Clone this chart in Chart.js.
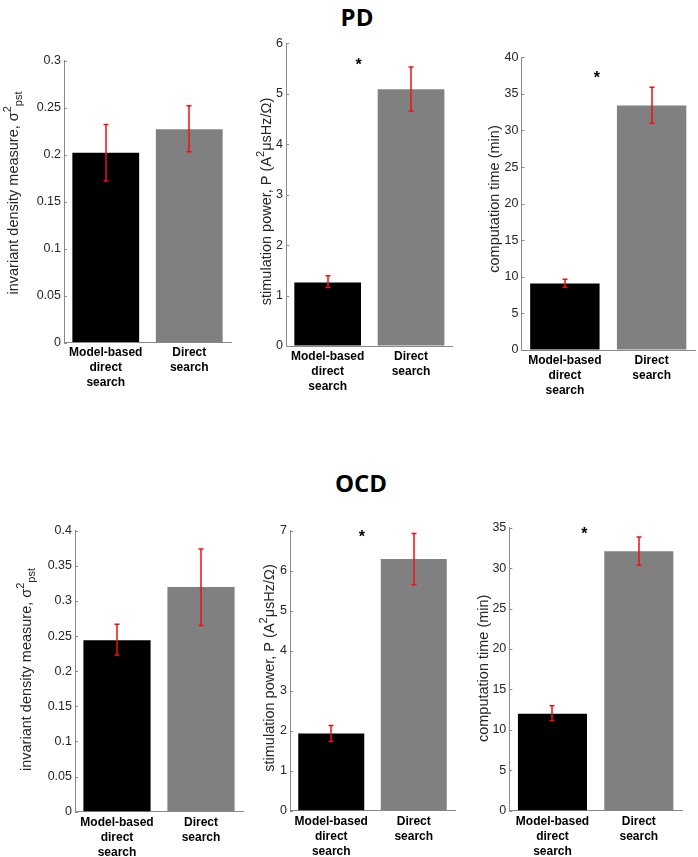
<!DOCTYPE html>
<html><head><meta charset="utf-8">
<script src="https://cdn.jsdelivr.net/npm/chart.js@4.4.0/dist/chart.umd.min.js"></script>
<style>
body{margin:0;background:#fff;width:698px;height:857px;position:relative;overflow:hidden;font-family:"Liberation Sans",Arial,sans-serif}
canvas{position:absolute}
.title{position:absolute;font-family:"Open Sans",sans-serif;font-weight:bold;font-size:24px;line-height:1;transform:translateX(-50%);color:#000}
</style></head><body>
<div class="title" style="left:357px;top:5px">PD</div>
<div class="title" style="left:361px;top:471px">OCD</div>
<canvas id="c0"></canvas><canvas id="c1"></canvas><canvas id="c2"></canvas>
<canvas id="c3"></canvas><canvas id="c4"></canvas><canvas id="c5"></canvas>
<script>
// ---------- data ----------
const categories = [["Model-based","direct","search"],["Direct","search"]];

const pdInvMean  = [0.202, 0.227];
const pdInvLow   = [0.172, 0.203];
const pdInvHigh  = [0.232, 0.252];
const pdPowMean  = [1.26, 5.09];
const pdPowLow   = [1.16, 4.66];
const pdPowHigh  = [1.39, 5.53];
const pdTimeMean = [9.1, 33.4];
const pdTimeLow  = [8.57, 31.0];
const pdTimeHigh = [9.66, 35.9];

const ocdInvMean  = [0.244, 0.320];
const ocdInvLow   = [0.223, 0.265];
const ocdInvHigh  = [0.267, 0.374];
const ocdPowMean  = [1.93, 6.29];
const ocdPowLow   = [1.73, 5.65];
const ocdPowHigh  = [2.13, 6.93];
const ocdTimeMean = [12.0, 32.1];
const ocdTimeLow  = [11.13, 30.35];
const ocdTimeHigh = [12.99, 33.85];

const pdInvTicks   = [0, 0.05, 0.1, 0.15, 0.2, 0.25, 0.3];
const pdPowTicks   = [0, 1, 2, 3, 4, 5, 6];
const pdTimeTicks  = [0, 5, 10, 15, 20, 25, 30, 35, 40];
const ocdInvTicks  = [0, 0.05, 0.1, 0.15, 0.2, 0.25, 0.3, 0.35, 0.4];
const ocdPowTicks  = [0, 1, 2, 3, 4, 5, 6, 7];
const ocdTimeTicks = [0, 5, 10, 15, 20, 25, 30, 35];

// significance marker heights (null = none)
const pdStars  = [null, 5.64, 37.7];
const ocdStars = [null, 6.94, 34.7];

const invTitle  = [["invariant density measure, σ"], ["2","sup"], ["pst","sub"]];
const powTitle  = [["stimulation power, P (A"], ["2","sup"], ["μsHz/Ω)"]];
const timeTitle = [["computation time (min)"]];

// ---------- layout (positions / sizes) ----------
const panels = [
  {mean:pdInvMean, low:pdInvLow, high:pdInvHigh, ticks:pdInvTicks, star:pdStars[0], title:invTitle,
   L:0, T:30, W:240, H:370, axisX:64, axisEnd:231, topY:60.7, zeroY:342.5, tx:17.5, ty:193},
  {mean:pdPowMean, low:pdPowLow, high:pdPowHigh, ticks:pdPowTicks, star:pdStars[1], title:powTitle,
   L:240, T:30, W:225, H:370, axisX:286, axisEnd:452.7, topY:43.3, zeroY:346, tx:270.5, ty:201.5},
  {mean:pdTimeMean, low:pdTimeLow, high:pdTimeHigh, ticks:pdTimeTicks, star:pdStars[2], title:timeTitle,
   L:465, T:30, W:233, H:370, axisX:521.5, axisEnd:695, topY:57.3, zeroY:350, tx:499, ty:199},
  {mean:ocdInvMean, low:ocdInvLow, high:ocdInvHigh, ticks:ocdInvTicks, star:ocdStars[0], title:invTitle,
   L:0, T:500, W:245, H:357, axisX:75, axisEnd:243, topY:530.7, zeroY:811.7, tx:30.5, ty:669.5},
  {mean:ocdPowMean, low:ocdPowLow, high:ocdPowHigh, ticks:ocdPowTicks, star:ocdStars[1], title:powTitle,
   L:245, T:500, W:215, H:357, axisX:290, axisEnd:455, topY:530.7, zeroY:810.7, tx:274, ty:668},
  {mean:ocdTimeMean, low:ocdTimeLow, high:ocdTimeHigh, ticks:ocdTimeTicks, star:ocdStars[2], title:timeTitle,
   L:460, T:500, W:238, H:357, axisX:509.3, axisEnd:682, topY:527.7, zeroY:810.7, tx:488.3, ty:668.3}
];
const STAR_X = 0.37;
const FONT = '"Liberation Sans", Arial, sans-serif';
const AXIS_COLOR = '#8a8a8a';

const extrasPlugin = {
  id: 'extras',
  afterDatasetsDraw(chart, args, opts) {
    const p = opts.panel;
    const {ctx, chartArea} = chart;
    const x = chart.scales.x, y = chart.scales.y;
    const meta = chart.getDatasetMeta(0);
    ctx.save();
    // inward tick marks
    ctx.strokeStyle = AXIS_COLOR; ctx.lineWidth = 1;
    p.ticks.forEach(v => {
      const py = Math.round(y.getPixelForValue(v)) + 0.5;
      ctx.beginPath(); ctx.moveTo(chartArea.left, py); ctx.lineTo(chartArea.left + 3, py); ctx.stroke();
    });
    // error bars
    ctx.strokeStyle = '#f01010'; ctx.lineWidth = 1.5;
    meta.data.forEach((bar, i) => {
      const bx = Math.round(bar.x);
      const y1 = y.getPixelForValue(p.low[i]), y2 = y.getPixelForValue(p.high[i]);
      ctx.beginPath();
      ctx.moveTo(bx, y1); ctx.lineTo(bx, y2);
      ctx.moveTo(bx - 2.5, y1); ctx.lineTo(bx + 2.5, y1);
      ctx.moveTo(bx - 2.5, y2); ctx.lineTo(bx + 2.5, y2);
      ctx.stroke();
    });
    // significance star
    if (p.star !== null) {
      ctx.fillStyle = '#000';
      ctx.font = 'bold 16px ' + FONT;
      ctx.textAlign = 'center'; ctx.textBaseline = 'alphabetic';
      ctx.fillText('*', x.getPixelForValue(STAR_X), y.getPixelForValue(p.star) + 9);
    }
    // y-axis title (rotated, with sup/sub)
    ctx.translate(p.tx - p.L, p.ty - p.T);
    ctx.rotate(-Math.PI / 2);
    ctx.fillStyle = '#262626';
    ctx.textAlign = 'left'; ctx.textBaseline = 'alphabetic';
    const segFont = s => (s ? '11px ' : '14.5px ') + FONT;
    let total = 0;
    p.title.forEach(seg => { ctx.font = segFont(seg[1]); total += ctx.measureText(seg[0]).width; });
    let cx = -total / 2;
    p.title.forEach(seg => {
      ctx.font = segFont(seg[1]);
      const dy = seg[1] === 'sup' ? -7 : seg[1] === 'sub' ? 4 : 0;
      ctx.fillText(seg[0], cx, dy);
      cx += ctx.measureText(seg[0]).width;
    });
    ctx.restore();
  }
};

panels.forEach((p, idx) => {
  const cv = document.getElementById('c' + idx);
  cv.width = p.W; cv.height = p.H;
  cv.style.left = p.L + 'px'; cv.style.top = p.T + 'px';
  cv.style.width = p.W + 'px'; cv.style.height = p.H + 'px';
  new Chart(cv, {
    type: 'bar',
    data: {
      labels: categories,
      datasets: [{
        data: p.mean,
        backgroundColor: ['#000000', '#808080'],
        borderWidth: 0,
        barPercentage: 0.8,
        categoryPercentage: 1.0
      }]
    },
    options: {
      responsive: false,
      animation: false,
      devicePixelRatio: 1,
      layout: { padding: { top: p.topY - p.T, right: p.L + p.W - p.axisEnd, left: 0, bottom: 0 } },
      plugins: { legend: { display: false }, tooltip: { enabled: false }, extras: { panel: p } },
      scales: {
        x: {
          grid: { display: true, drawOnChartArea: false, drawTicks: false },
          border: { color: AXIS_COLOR, width: 1 },
          ticks: { font: { family: FONT, size: 12, weight: 'bold', lineHeight: 1.25 }, color: '#000', padding: 3, maxRotation: 0, autoSkip: false },
          afterFit(s) { s.height = p.T + p.H - p.zeroY; }
        },
        y: {
          min: 0, max: p.ticks[p.ticks.length - 1],
          afterBuildTicks(s) { s.ticks = p.ticks.map(v => ({ value: v })); },
          grid: { display: true, drawOnChartArea: false, drawTicks: false },
          border: { color: AXIS_COLOR, width: 1 },
          ticks: { font: { family: FONT, size: 12.5 }, color: '#262626', padding: 3, callback: v => String(v) },
          afterFit(s) { s.width = p.axisX - p.L; }
        }
      }
    },
    plugins: [extrasPlugin]
  });
});
</script>
</body></html>
